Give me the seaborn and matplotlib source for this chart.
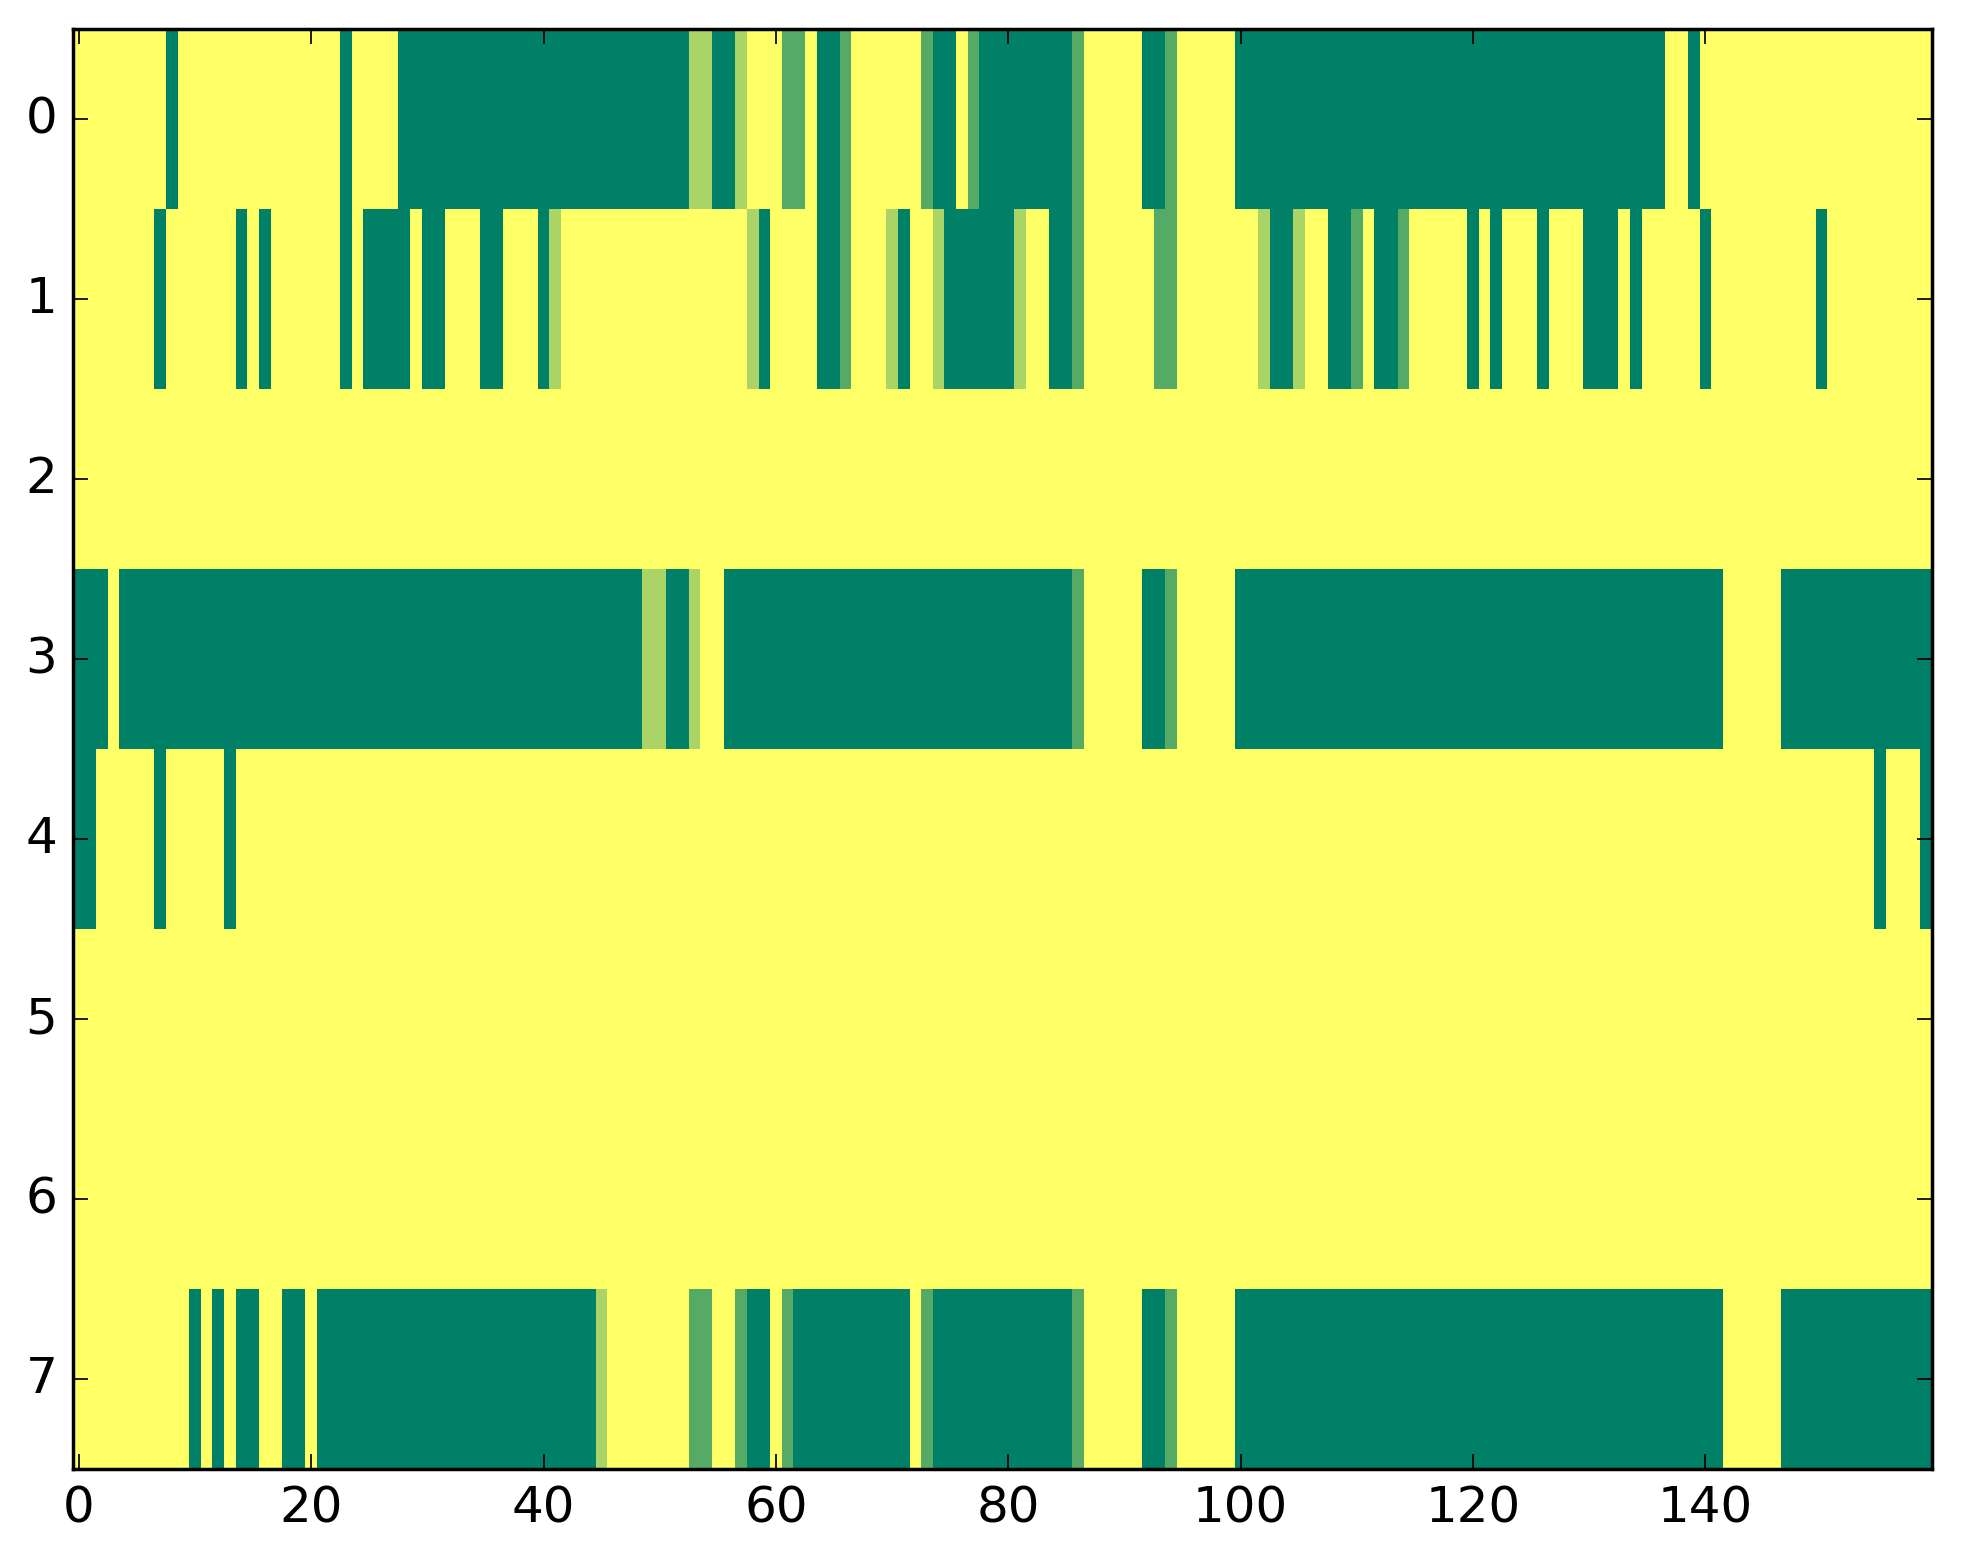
import numpy as np
import pandas as pd
import matplotlib
matplotlib.use("Agg")
import matplotlib.pyplot as plt
import seaborn as sns

# one string per row, one digit per column (0 = yellow ... 3 = dark green)
row0 = ("0000000030" "0000000000" "0003000033" "3333333333" "3333333333"
        "3331133100" "0220332000" "0002330233" "3333332000" "0033200000"
        "3333333333" "3333333333" "3333333333" "3333333003" "0000000000"
        "0000000000")
row1 = ("0000000300" "0000303000" "0003033330" "3300033000" "3100000000"
        "0000000013" "0000332000" "1300133333" "3100332000" "0002200000"
        "0013310033" "2033200000" "3030003000" "3330300000" "3000000000"
        "3000000000")
row2 = "0" * 160
row3 = ("3330333333" "3333333333" "3333333333" "3333333333" "3333333331"
        "1331003333" "3333333333" "3333333333" "3333332000" "0033200000"
        "3333333333" "3333333333" "3333333333" "3333333333" "3300000333"
        "3333333333")
row4 = ("3300000300" "0003000000" + "0" * 130 + "0000030003")
row5 = "0" * 160
row6 = "0" * 160
row7 = ("0000000000" "3030330033" "0333333333" "3333333333" "3333310000"
        "0002200233" "0233333333" "3302333333" "3333332000" "0033200000"
        "3333333333" "3333333333" "3333333333" "3333333333" "3300000333"
        "3333333333")

rows = [row0, row1, row2, row3, row4, row5, row6, row7]
xtick_vals = [0, 20, 40, 60, 80, 100, 120, 140]
ytick_vals = [0, 1, 2, 3, 4, 5, 6, 7]

grid = pd.DataFrame([[int(ch) for ch in r] for r in rows])

plt.rcParams['font.family'] = ['DejaVu Sans']
plt.rcParams['font.size'] = 14.4

fig = plt.figure(figsize=(1963 / 250, 1564 / 250), dpi=250)
ax = fig.add_axes([73 / 1963, 1 - 1469 / 1564, (1932 - 73) / 1963, (1469 - 29) / 1564])

sns.heatmap(grid, cmap="summer_r", vmin=0, vmax=3, cbar=False, ax=ax,
            xticklabels=False, yticklabels=False)

ax.set_xticks([v + 0.5 for v in xtick_vals])
ax.set_xticklabels([str(v) for v in xtick_vals], rotation=0)
ax.set_yticks([v + 0.5 for v in ytick_vals])
ax.set_yticklabels([str(v) for v in ytick_vals], rotation=0, va="center")
ax.set_xlim(0, len(row0))
ax.set_ylim(len(rows), 0)
ax.set_xlabel("")
ax.set_ylabel("")

for sp in ax.spines.values():
    sp.set_visible(True)
    sp.set_color("black")
    sp.set_linewidth(1.0)

ax.tick_params(direction="in", top=True, right=True, length=4.3, width=0.5,
               colors="black", labelsize=14.4)
ax.tick_params(axis="x", pad=4.5)
ax.tick_params(axis="y", pad=4.5)

fig.savefig("out.png", dpi=250)
